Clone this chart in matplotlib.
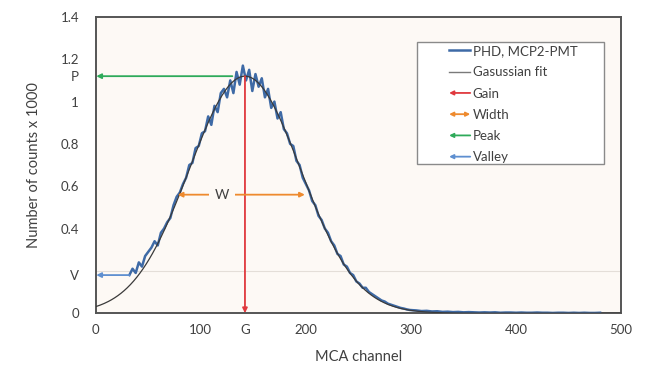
import numpy as np
import matplotlib
matplotlib.use('Agg')
import matplotlib.pyplot as plt
from matplotlib.lines import Line2D
from matplotlib.patches import FancyArrowPatch, Rectangle

plt.rcParams['font.family'] = ['Lato', 'DejaVu Sans']

# measured pulse height distribution (channel, counts x 1000)
channels = list(range(32, 300, 3)) + list(range(305, 485, 5))
counts = [0.18, 0.21, 0.19, 0.24, 0.22, 0.27, 0.29, 0.31, 0.34, 0.32,
          0.38, 0.40, 0.43, 0.45, 0.51, 0.55, 0.57, 0.61, 0.64, 0.70,
          0.71, 0.78, 0.79, 0.85, 0.86, 0.93, 0.89, 0.98, 0.95, 1.04,
          1.06, 1.02, 1.10, 1.04, 1.14, 1.08, 1.17, 1.10, 1.15, 1.05,
          1.13, 1.07, 1.11, 1.02, 1.06, 0.97, 1.00, 0.92, 0.95, 0.87,
          0.85, 0.80, 0.79, 0.72, 0.70, 0.64, 0.61, 0.58, 0.53, 0.51,
          0.46, 0.44, 0.40, 0.38, 0.34, 0.32, 0.28, 0.27, 0.23, 0.22,
          0.19, 0.18, 0.15, 0.14, 0.12, 0.12, 0.10, 0.09, 0.08, 0.07,
          0.06, 0.055, 0.045, 0.04, 0.035, 0.03, 0.025, 0.022, 0.018, 0.015,
          0.013, 0.010, 0.011, 0.008, 0.009, 0.006, 0.007, 0.005, 0.006, 0.004,
          0.005, 0.004, 0.003, 0.004, 0.003, 0.004, 0.002, 0.003, 0.003, 0.002,
          0.003, 0.002, 0.002, 0.003, 0.002, 0.002, 0.001, 0.002, 0.002, 0.001,
          0.002, 0.001, 0.002, 0.001, 0.001, 0.002]

# gaussian fit parameters
fit_amp = 1.12
fit_center = 142
fit_sigma = 53

# markers
gain = 142
peak = 1.12
valley = 0.18
valley_ch = 32
width_lo, width_hi, width_level = 78, 199, 0.56

x_ticks = [0, 100, gain, 200, 300, 400, 500]
x_labels = ['0', '100', 'G', '200', '300', '400', '500']
y_ticks = [0, valley, 0.4, 0.6, 0.8, 1.0, peak, 1.2, 1.4]
y_labels = ['0', 'V', '0.4', '0.6', '0.8', '1', 'P', '1.2', '1.4']

c_data = '#3E6AA6'
c_fit = '#3A3A3A'
c_gain = '#E0393E'
c_width = '#EE8A2E'
c_peak = '#2EAA5A'
c_valley = '#5E8FD0'


class ArrowHandler:
    def __init__(self, style):
        self.style = style

    def legend_artist(self, legend, orig_handle, fontsize, handlebox):
        x0, y0 = handlebox.xdescent, handlebox.ydescent
        w, h = handlebox.width, handlebox.height
        p = FancyArrowPatch((x0 + w, y0 + h / 2), (x0, y0 + h / 2),
                            arrowstyle=self.style, mutation_scale=6,
                            color=orig_handle.get_color(), lw=1.3,
                            shrinkA=0, shrinkB=0,
                            transform=handlebox.get_transform())
        handlebox.add_artist(p)
        return p


fig = plt.figure(figsize=(6.47, 3.68), dpi=100)
ax = fig.add_axes([0.148, 0.149, 0.812, 0.805])
ax.set_facecolor('#FDF9F5')

xf = np.linspace(0, 500, 501)
fit = fit_amp * np.exp(-(xf - fit_center) ** 2 / (2 * fit_sigma ** 2))

ax.plot(channels, counts, color=c_data, lw=1.8, zorder=3)
ax.plot(xf, fit, color=c_fit, lw=0.9, zorder=4)

aprops = dict(arrowstyle='-|>', mutation_scale=7, lw=1.3, shrinkA=0, shrinkB=0)
ax.annotate('', xy=(gain, 0), xytext=(gain, peak),
            arrowprops=dict(color=c_gain, **aprops), zorder=5)
ax.annotate('', xy=(0.5, peak), xytext=(130, peak),
            arrowprops=dict(color=c_peak, **aprops), zorder=5)
ax.annotate('', xy=(0.5, valley), xytext=(valley_ch, valley),
            arrowprops=dict(color=c_valley, **aprops), zorder=5)
ax.annotate('', xy=(width_lo, width_level), xytext=(width_hi, width_level),
            arrowprops=dict(color=c_width, arrowstyle='<|-|>', mutation_scale=7,
                            lw=1.3, shrinkA=0, shrinkB=0), zorder=5)
ax.text(120, width_level, 'W', ha='center', va='center', fontsize=10,
        color='#404040', zorder=6,
        bbox=dict(facecolor='#FDF9F5', edgecolor='none', pad=4))

ax.set_xlim(0, 500)
ax.set_ylim(0, 1.4)
ax.set_xticks(np.arange(100, 500, 100), minor=True)
ax.set_yticks(np.arange(0.2, 1.4, 0.2), minor=True)
ax.grid(which='minor', color='#E4DED8', lw=0.8)
ax.grid(which='major', visible=False)
ax.set_xticks(x_ticks)
ax.set_xticklabels(x_labels)
ax.set_yticks(y_ticks)
ax.set_yticklabels(y_labels)
ax.tick_params(which='both', length=0, labelsize=9.5, colors='#404040')
ax.tick_params(axis='x', pad=8)
ax.tick_params(axis='y', pad=12)
for s in ax.spines.values():
    s.set_color('#555555')
    s.set_linewidth(1.4)
ax.set_axisbelow(True)

ax.set_xlabel('MCA channel', fontsize=10.5, color='#404040', labelpad=10)
ax.set_ylabel('Number of counts x 1000', fontsize=10.5, color='#404040', labelpad=14)

# legend
ax.add_patch(Rectangle((0.611, 0.503), 0.357, 0.413, transform=ax.transAxes,
                       facecolor='white', edgecolor='#8A8A8A', lw=1.0, zorder=7))
h_data = Line2D([], [], color=c_data, lw=1.8)
h_fit = Line2D([], [], color='#7A7A7A', lw=1.0)
h_gain = Line2D([], [], color=c_gain)
h_width = Line2D([], [], color=c_width)
h_peak = Line2D([], [], color=c_peak)
h_valley = Line2D([], [], color=c_valley)
leg = ax.legend([h_data, h_fit, h_gain, h_width, h_peak, h_valley],
                ['PHD, MCP2-PMT', 'Gasussian fit', 'Gain', 'Width', 'Peak', 'Valley'],
                handler_map={h_gain: ArrowHandler('-|>'), h_width: ArrowHandler('<|-|>'),
                             h_peak: ArrowHandler('-|>'), h_valley: ArrowHandler('-|>')},
                loc='upper left', bbox_to_anchor=(0.65, 0.945), frameon=False,
                fontsize=9.5, handlelength=1.6, handletextpad=0.2, labelspacing=0.7,
                labelcolor='#404040')
leg.set_zorder(8)

fig.savefig('out.png', dpi=100)
